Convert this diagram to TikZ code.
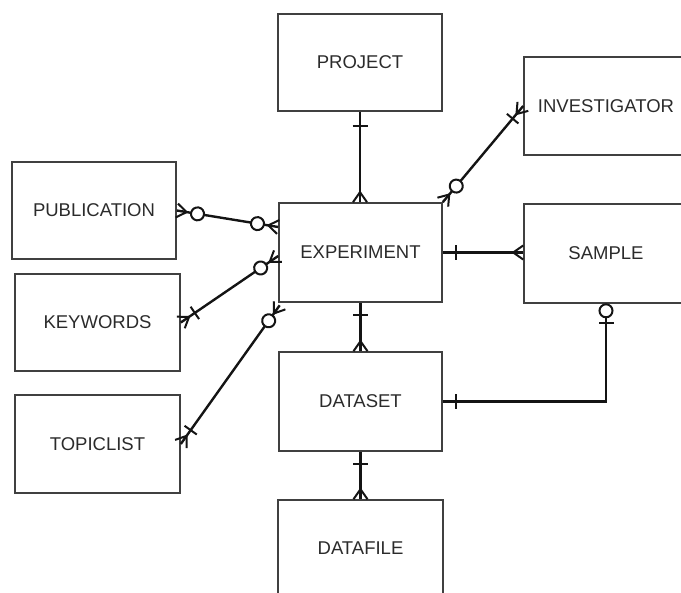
\documentclass[tikz,border=0pt]{standalone}
\usepackage{fontspec}
\setmainfont{Liberation Sans}
\usetikzlibrary{decorations.markings,calc}
\definecolor{boxline}{HTML}{404040}
\definecolor{txt}{HTML}{2b2b2b}
\tikzset{
 entity/.style={draw=boxline, line width=1.6pt, fill=white, minimum width=164pt, minimum height=97pt, inner sep=0pt, text=txt, font=\fontsize{18.5}{20}\selectfont},
 conn/.style={line width=2.4pt, draw=black!92},
 mk/.style={line width=2pt, draw=black!92},
 crowS/.style={postaction={decorate,decoration={markings,mark=at position 0.01pt with {\draw[mk] (10pt,0pt)--(0pt,7pt) (10pt,0pt)--(0pt,-7pt);}}}},
 crowE/.style={postaction={decorate,decoration={markings,mark=at position -0.01pt with {\draw[mk] (-10pt,0pt)--(0pt,7pt) (-10pt,0pt)--(0pt,-7pt);}}}},
 barat/.style={postaction={decorate,decoration={markings,mark=at position #1 with {\draw[mk] (0pt,-7.5pt)--(0pt,7.5pt);}}}},
 ringat/.style={postaction={decorate,decoration={markings,mark=at position #1 with {\draw[mk,fill=white] (0pt,0pt) circle (6.5pt);}}}},
}
\begin{document}
\begin{tikzpicture}[x=1pt,y=-1pt]
\useasboundingbox (0,0) rectangle (681,593);
\clip (0,0) rectangle (681,593);
\node[entity] (proj) at (360,62.5) {PROJECT};
\node[entity, minimum height=98pt] (inv) at (606,106) {INVESTIGATOR};
\node[entity] (pub) at (94,210.5) {PUBLICATION};
\node[entity, minimum width=165pt] (kw) at (97.5,322.5) {KEYWORDS};
\node[entity, minimum width=165pt, minimum height=98pt] (tl) at (97.5,444) {TOPICLIST};
\node[entity, minimum width=163pt, minimum height=99pt] (exp) at (360.5,252.5) {EXPERIMENT};
\node[entity, minimum height=99pt] (sam) at (606,253.5) {SAMPLE};
\node[entity, minimum width=163pt, minimum height=99pt] (ds) at (360.5,401.5) {DATASET};
\node[entity, minimum width=165pt, minimum height=96pt] (df) at (360.5,548) {DATAFILE};
% connectors
\draw[conn, barat=14pt, crowE] (proj.south) -- (proj.south |- exp.north);
\draw[conn, barat=12pt, crowE] (exp.south) -- (ds.north);
\draw[conn, barat=12pt, crowE] (ds.south) -- (df.north);
\draw[conn, barat=13pt, crowE] (exp.east) -- (sam.west |- exp.east);
\draw[conn, barat=13pt, barat=-19pt, ringat=-7pt] (ds.east) -| (sam.south);
\draw[conn, crowS, ringat=21pt, barat=-16pt, crowE] (exp.north east) -- (inv.west);
\draw[conn, crowS, ringat=21pt, ringat=-21pt, crowE] (pub.east) -- ([yshift=25.5pt]exp.west);
\draw[conn, crowS, barat=17pt, ringat=-21pt, crowE] (kw.east) -- ([yshift=-3.5pt]exp.west);
\draw[conn, crowS, barat=17pt, ringat=-19pt, crowE] (tl.east) -- ([shift={(1.5pt,-2.5pt)}]exp.south west);
\end{tikzpicture}
\end{document}
